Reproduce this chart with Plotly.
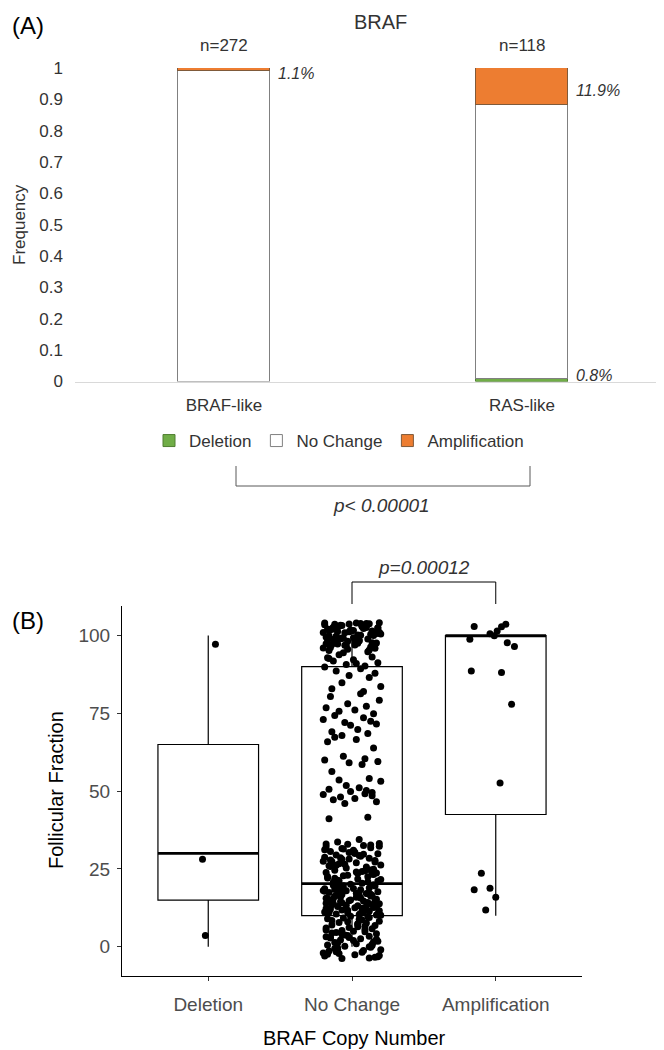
import plotly.graph_objects as go

W, H = 664, 1050
FONT = "Liberation Sans, Arial, sans-serif"


def fx(p):
    return p / W


def fy(p):
    return 1 - p / H


# ---------------- Panel A data ----------------
groups = ["BRAF-like", "RAS-like"]
group_n = [272, 118]
deletion = [0.0, 0.008]
no_change = [0.989, 0.873]
amplification = [0.011, 0.119]
freq_ticks = [0, 0.1, 0.2, 0.3, 0.4, 0.5, 0.6, 0.7, 0.8, 0.9, 1]
freq_ticktext = ["0", "0.1", "0.2", "0.3", "0.4", "0.5", "0.6", "0.7", "0.8", "0.9", "1"]
p_value_a = "p< 0.00001"

# ---------------- Panel B data ----------------
copy_cats = ["Deletion", "No Change", "Amplification"]
box_lower = [0, 0, 10]
box_q1 = [15, 10, 42.5]
box_median = [30, 20.3, 100]
box_q3 = [65, 90, 100]
box_upper = [100, 100, 100]
ff_ticks = [0, 25, 50, 75, 100]
p_value_b = "p=0.00012"

del_y = [97.2, 28.1, 3.6]
del_jit = [0.05, -0.04, -0.02]

amp_y = [102.9, 103.6, 102.8, 101.5, 99.9, 98.8, 100.6, 97.7, 96.5, 88.6, 88.1,
         77.9, 52.6, 23.6, 18.3, 18.8, 15.9, 11.8]
amp_jit = [-0.15, 0.07, 0.04, 0.01, -0.01, -0.18, -0.04, 0.08, 0.13, -0.17, 0.04,
           0.11, 0.03, -0.10, -0.15, -0.04, 0.00, -0.07]

nc_y = [
    # 95-104
    103.8, 103.2, 102.5, 101.9, 104.0, 103.5, 102.8, 101.2, 100.6, 99.8, 103.9, 102.1,
    101.5, 100.9, 99.3, 98.7, 104.1, 103.0, 102.3, 101.7, 100.2, 99.5, 98.9, 98.2, 97.6,
    103.6, 102.9, 101.0, 100.4, 99.1, 97.9, 97.1, 96.5, 103.3, 102.6, 101.8, 100.8, 99.9,
    98.4, 97.3, 96.8, 95.9, 104.0, 103.1, 102.0, 100.5, 99.2, 98.0, 96.2, 95.4, 103.7,
    102.4, 101.3, 100.1, 98.6, 97.7, 96.9, 103.4, 102.7, 101.6, 100.7, 99.6, 98.3, 97.4,
    96.3, 95.6, 103.9, 102.2, 101.1, 99.0, 97.0, 95.2, 103.0, 101.4, 100.0, 98.8, 97.5,
    96.0, 94.8, 94.5,
    # 86-94
    93.8, 93.1, 92.6, 92.2, 91.8, 91.3, 90.7, 90.2, 89.9, 89.3, 88.6, 87.9, 87.2, 86.5,
    92.9, 91.0,
    # 78-85
    84.8, 83.6, 82.9, 82.0, 81.3, 80.4, 79.2, 78.1,
    # 71-77
    77.3, 76.8, 76.1, 75.7, 74.9, 74.3, 73.6, 73.0, 72.5, 72.1, 71.6, 71.2,
    # 63-70
    69.8, 69.1, 68.5, 67.9, 67.3, 66.6, 65.9, 63.9,
    # 58-62
    61.2, 60.4, 60.0, 59.5, 59.1, 58.6,
    # 46-57
    56.3, 54.1, 53.6, 53.2, 51.8, 51.1, 50.6, 50.2, 49.9, 49.6, 49.2, 48.9, 48.5, 48.1,
    47.6, 47.2, 46.6, 46.0,
    # 33-42
    41.6, 41.1, 34.5, 33.7,
    # 20-33
    33.2, 32.9, 32.5, 32.1, 31.8, 31.4, 31.0, 30.6, 30.3, 29.9, 29.5, 29.1, 28.8, 28.4,
    28.1, 27.7, 27.4, 27.0, 26.7, 26.3, 26.0, 25.6, 25.3, 24.9, 24.6, 24.2, 23.9, 23.5,
    23.2, 22.8, 22.5, 22.1, 21.8, 21.4, 21.1, 20.7, 20.4, 20.1, 32.7, 31.2, 30.0, 28.6,
    27.2, 25.8, 24.4, 23.0, 21.6, 20.3, 33.0, 29.7, 26.5, 23.7, 22.0, 30.8, 27.9, 24.7,
    21.2, 32.3, 28.2, 25.1, 22.6, 29.3, 26.2, 23.4, 31.6, 24.0, 27.5, 20.9, 30.4,
    # 10-20
    19.8, 19.5, 19.2, 18.9, 18.6, 18.3, 18.0, 17.7, 17.4, 17.1, 16.8, 16.5, 16.2, 15.9,
    15.6, 15.3, 15.0, 14.7, 14.4, 14.1, 13.8, 13.5, 13.2, 12.9, 12.6, 12.3, 12.0, 11.7,
    11.4, 11.1, 10.8, 10.5, 10.2, 19.6, 18.7, 17.8, 16.9, 16.0, 15.1, 14.2, 13.3, 12.4,
    11.5, 10.6, 19.1, 17.2, 15.4, 13.6, 11.8, 10.1, 18.4, 16.6, 14.8, 13.0, 11.2, 19.9,
    17.5, 15.7, 13.9, 12.1, 10.4, 18.1, 16.3, 14.5, 12.7, 10.9, 17.0, 14.0, 11.0, 15.5,
    12.5, 18.5, 13.4, 16.7, 11.6,
    # -4-10
    9.8, 9.4, 9.0, 8.6, 8.2, 7.8, 7.4, 7.0, 6.6, 6.2, 5.8, 5.4, 5.0, 4.6, 4.2, 3.8, 3.4,
    3.0, 2.6, 2.2, 1.8, 1.4, 1.0, 0.6, 0.2, -0.2, -0.6, -1.0, -1.4, -1.8, -2.2, -2.6,
    -3.0, -3.4, -3.8, 9.6, 8.4, 7.2, 6.0, 4.8, 3.6, 2.4, 1.2, 0.0, -1.2, -2.4, -3.6, 9.2,
    6.8, 4.4, 2.0, -0.4, -2.8, 8.0, 5.6, 3.2, 0.8, -1.6, 8.8, 5.2, 1.6, -2.0, 7.6, 3.0,
    -0.8, 6.4, 2.8, -3.2, 4.0, 0.4,
]

nc_jit = [
    0.12, -0.07, 0.18, -0.15, 0.03, -0.19, 0.09, -0.02, 0.16, -0.11, 0.06, -0.17, 0.14, -0.05, 0.01, -0.13, 0.19, -0.09, 0.08, -0.16,
    0.04, -0.18, 0.11, -0.03, 0.17, -0.12, 0.07, -0.20, 0.13, -0.06, 0.02, -0.14, 0.15, -0.08, 0.10, -0.01, 0.19, -0.16, 0.05, -0.10,
    -0.04, 0.16, -0.19, 0.08, -0.12, 0.20, -0.07, 0.03, -0.15, 0.12, -0.02, 0.18, -0.10, 0.06, -0.17, 0.14, -0.05, 0.09, -0.13, 0.01,
    0.17, -0.11, 0.05, -0.18, 0.13, -0.03, 0.10, -0.14, 0.19, -0.08, 0.02, -0.16, 0.07, -0.01, 0.15, -0.12, 0.04, -0.20, 0.11, -0.06,
    -0.09, 0.14, -0.16, 0.01, -0.13, 0.18, -0.04, 0.09, -0.19, 0.06, -0.11, 0.16, -0.02, 0.12, -0.17, 0.03, -0.07, 0.20, -0.14, 0.08,
    0.06, -0.15, 0.19, -0.03, 0.10, -0.18, 0.02, -0.09, 0.15, -0.12, 0.08, -0.20, 0.13, -0.05, 0.17, -0.01, 0.04, -0.14, 0.11, -0.07,
    -0.12, 0.03, -0.17, 0.15, -0.06, 0.09, -0.19, 0.18, -0.02, 0.07, -0.14, 0.12, -0.09, 0.20, -0.04, 0.05, -0.16, 0.10, -0.01, 0.14,
    0.09, -0.20, 0.14, -0.08, 0.02, -0.13, 0.17, -0.05, 0.11, -0.16, 0.05, -0.10, 0.19, -0.03, 0.08, -0.18, 0.13, -0.06, 0.01, -0.15,
    -0.02, 0.18, -0.11, 0.06, -0.19, 0.12, -0.07, 0.16, -0.14, 0.03, -0.09, 0.20, -0.16, 0.10, -0.04, 0.15, -0.12, 0.07, -0.18, 0.04,
    0.15, -0.06, 0.11, -0.17, 0.04, -0.10, 0.18, -0.13, 0.07, -0.01, 0.13, -0.19, 0.02, -0.08, 0.16, -0.15, 0.09, -0.03, 0.20, -0.11,
    -0.18, 0.08, -0.05, 0.17, -0.12, 0.01, -0.15, 0.13, -0.09, 0.19, -0.02, 0.10, -0.17, 0.05, -0.11, 0.14, -0.07, 0.03, -0.20, 0.11,
    0.02, -0.13, 0.16, -0.09, 0.12, -0.19, 0.06, -0.04, 0.18, -0.16, 0.10, -0.07, 0.14, -0.12, 0.03, -0.18, 0.17, -0.01, 0.08, -0.14,
    -0.07, 0.19, -0.14, 0.04, -0.10, 0.15, -0.18, 0.09, -0.03, 0.12, -0.16, 0.06, -0.11, 0.17, -0.06, 0.01, -0.19, 0.13, -0.08, 0.16,
    0.11, -0.04, 0.07, -0.16, 0.18, -0.11, 0.03, -0.17, 0.14, -0.07, 0.20, -0.12, 0.05, -0.02, 0.10, -0.19, 0.15, -0.09, 0.06, -0.13,
    -0.15, 0.05, -0.20, 0.13, -0.08, 0.17, -0.03, 0.11, -0.18, 0.08, -0.13, 0.02, -0.06, 0.16, -0.10, 0.19, -0.01, 0.12, -0.17, 0.07,
    0.19, -0.09, 0.04, -0.14, 0.09, -0.02, 0.14, -0.18, 0.01, -0.11, 0.17, -0.05, 0.12, -0.15, 0.06, -0.08, 0.18, -0.12, 0.03, -0.17,
    -0.05, 0.13, -0.12, 0.20, -0.16, 0.07, -0.09, 0.02, -0.19, 0.16, -0.07, 0.11, -0.14, 0.04, -0.18, 0.09, -0.03, 0.17, -0.10, 0.12,
    0.08, -0.17, 0.12, -0.06, 0.16, -0.14, 0.01, -0.10, 0.19, -0.03, 0.09, -0.18, 0.14, -0.11, 0.05, -0.07, 0.15, -0.20, 0.10, -0.02,
    -0.10, 0.04, -0.15, 0.18, -0.07, 0.14, -0.12, 0.06, -0.17, 0.10, -0.04, 0.19, -0.13, 0.08, -0.01, 0.16, -0.19, 0.03, -0.08, 0.13,
]

# ---------------- Styles ----------------
ORANGE = "#ED7D31"
GREEN = "#70AD47"
BAR_EDGE = "#808080"
TXT_A = "#333333"
BAR_WIDTH = 0.31
BOX_WIDTH = 0.7

fig = go.Figure()

# Panel A: stacked bars
fig.add_trace(go.Bar(
    x=groups, y=[v if v > 0 else None for v in deletion], name="Deletion",
    marker=dict(color=GREEN, line=dict(color="#507E32", width=1)),
    width=BAR_WIDTH, xaxis="x", yaxis="y"))
fig.add_trace(go.Bar(
    x=groups, y=no_change, name="No Change",
    marker=dict(color="white", line=dict(color=BAR_EDGE, width=1)),
    width=BAR_WIDTH, xaxis="x", yaxis="y"))
fig.add_trace(go.Bar(
    x=groups, y=amplification, name="Amplification",
    marker=dict(color=ORANGE, line=dict(color="#7F5A3A", width=1)),
    width=BAR_WIDTH, xaxis="x", yaxis="y"))

# Panel B: boxes
fig.add_trace(go.Box(
    x=[0, 1, 2], q1=box_q1, median=box_median, q3=box_q3,
    lowerfence=box_lower, upperfence=box_upper, width=BOX_WIDTH,
    fillcolor="white", line=dict(color="black", width=1.2), whiskerwidth=0,
    boxpoints=False, showlegend=False, xaxis="x2", yaxis="y2", hoverinfo="skip"))
for i, m in enumerate(box_median):
    fig.add_trace(go.Scatter(
        x=[i - BOX_WIDTH / 2, i + BOX_WIDTH / 2], y=[m, m], mode="lines",
        line=dict(color="black", width=2.6), showlegend=False,
        xaxis="x2", yaxis="y2", hoverinfo="skip"))

for idx, ys, js in [(0, del_y, del_jit), (1, nc_y, nc_jit), (2, amp_y, amp_jit)]:
    pairs = list(zip(ys, js))
    fig.add_trace(go.Scatter(
        x=[idx + j for _, j in pairs], y=[y for y, _ in pairs], mode="markers",
        marker=dict(color="black", size=7, line=dict(width=0)),
        showlegend=False, xaxis="x2", yaxis="y2", hoverinfo="skip"))

annotations = []
# Panel A texts
annotations.append(dict(text="(A)", x=fx(2), y=fy(17), xref="paper", yref="paper",
                        xanchor="left", yanchor="middle", showarrow=False,
                        font=dict(size=24, color="black")))
annotations.append(dict(text="BRAF", x=fx(372), y=fy(14), xref="paper", yref="paper",
                        xanchor="center", yanchor="middle", showarrow=False,
                        font=dict(size=20, color=TXT_A)))
for i, n in enumerate(group_n):
    annotations.append(dict(text=f"n={n}", x=i, y=fy(37), xref="x", yref="paper",
                            xanchor="center", yanchor="middle", showarrow=False,
                            font=dict(size=17, color=TXT_A)))
for i, a in enumerate(amplification):
    if a > 0:
        annotations.append(dict(text=f"<i>{a * 100:.1f}%</i>", x=i + BAR_WIDTH / 2,
                                y=1 - a / 2, xref="x", yref="y", xanchor="left",
                                yanchor="middle", xshift=6, yshift=-4, showarrow=False,
                                font=dict(size=16, color=TXT_A)))
for i, d in enumerate(deletion):
    if d > 0:
        annotations.append(dict(text=f"<i>{d * 100:.1f}%</i>", x=i + BAR_WIDTH / 2,
                                y=d / 2, xref="x", yref="y", xanchor="left",
                                yanchor="middle", xshift=6, yshift=5, showarrow=False,
                                font=dict(size=16, color=TXT_A)))
annotations.append(dict(text="Frequency", x=fx(11), y=fy(217), xref="paper", yref="paper",
                        xanchor="center", yanchor="middle", textangle=-90, showarrow=False,
                        font=dict(size=17, color=TXT_A)))
annotations.append(dict(text=f"<i>{p_value_a}</i>", x=fx(373), y=fy(497), xref="paper",
                        yref="paper", xanchor="center", yanchor="middle", showarrow=False,
                        font=dict(size=19, color=TXT_A)))
# Panel B texts
annotations.append(dict(text="(B)", x=fx(2), y=fy(612), xref="paper", yref="paper",
                        xanchor="left", yanchor="middle", showarrow=False,
                        font=dict(size=24, color="black")))
annotations.append(dict(text=f"<i>{p_value_b}</i>", x=1.5, y=fy(559), xref="x2",
                        yref="paper", xanchor="center", yanchor="middle", showarrow=False,
                        font=dict(size=19, color="#333333")))
annotations.append(dict(text="Follicular Fraction", x=fx(48), y=fy(782), xref="paper",
                        yref="paper", xanchor="center", yanchor="middle", textangle=-90,
                        showarrow=False, font=dict(size=20, color="black")))
annotations.append(dict(text="BRAF Copy Number", x=fx(346), y=fy(1030), xref="paper",
                        yref="paper", xanchor="center", yanchor="middle", showarrow=False,
                        font=dict(size=20, color="black")))

shapes = [
    dict(type="path", xref="paper", yref="paper",
         path=f"M {fx(228)} {fy(458)} L {fx(228)} {fy(478)} L {fx(522)} {fy(478)} L {fx(522)} {fy(458)}",
         line=dict(color="#595959", width=1)),
    dict(type="path", xref="x2", yref="paper",
         path=f"M 1 {fy(596)} L 1 {fy(574)} L 2 {fy(574)} L 2 {fy(596)}",
         line=dict(color="black", width=1)),
]

fig.update_layout(
    width=W, height=H, margin=dict(l=0, r=0, t=0, b=0),
    paper_bgcolor="white", plot_bgcolor="white",
    font=dict(family=FONT, color=TXT_A),
    barmode="stack", bargap=0.0,
    showlegend=True,
    legend=dict(orientation="h", x=fx(331), y=fy(433), xanchor="center", yanchor="middle",
                traceorder="normal", font=dict(size=17, color=TXT_A), itemwidth=30,
                bgcolor="rgba(0,0,0,0)", itemclick=False, itemdoubleclick=False),
    annotations=annotations, shapes=shapes,
    xaxis=dict(domain=[fx(67), fx(663)], type="category", range=[-0.5, 1.5],
               showline=True, linecolor="#D9D9D9", linewidth=1, ticks="",
               showgrid=False, zeroline=False, tickfont=dict(size=17, color=TXT_A),
               ticklabelstandoff=8, automargin=False, fixedrange=True, anchor="y"),
    yaxis=dict(domain=[fy(373.5), fy(60)], range=[0, 1], tickvals=freq_ticks,
               ticktext=freq_ticktext, showline=False, showgrid=False, zeroline=False,
               ticks="", tickfont=dict(size=17, color=TXT_A), ticklabelstandoff=11,
               automargin=False, fixedrange=True, anchor="x"),
    xaxis2=dict(domain=[fx(114), fx(574)], range=[-0.6, 2.6], tickvals=[0, 1, 2],
                ticktext=copy_cats, showline=True, linecolor="black", linewidth=1,
                ticks="outside", ticklen=4, tickcolor="#333333", showgrid=False,
                zeroline=False, tickfont=dict(size=19, color="#4D4D4D"),
                ticklabelstandoff=7, automargin=False, fixedrange=True, anchor="y2"),
    yaxis2=dict(domain=[fy(968), fy(598)], range=[-9.4, 109.5], tickvals=ff_ticks,
                showline=True, linecolor="black", linewidth=1, ticks="outside",
                ticklen=4, tickcolor="#333333", showgrid=False, zeroline=False,
                tickfont=dict(size=19, color="#4D4D4D"), ticklabelstandoff=3,
                automargin=False, fixedrange=True, anchor="x2"),
)

fig.write_html("out.html")
